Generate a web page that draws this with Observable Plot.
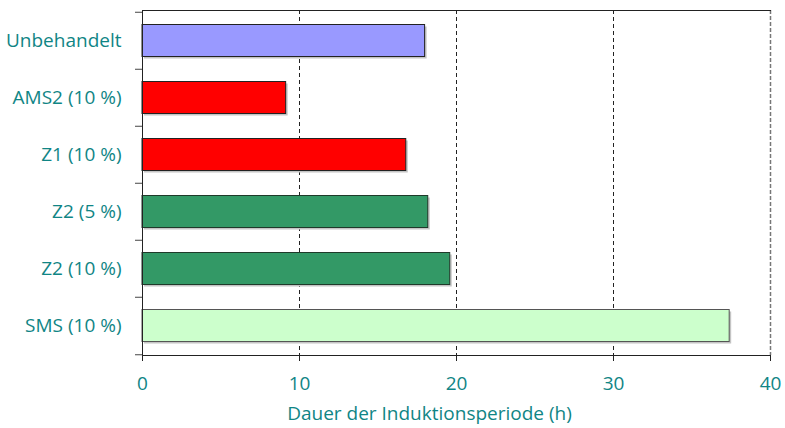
<!DOCTYPE html>
<html>
<head>
<meta charset="utf-8">
<script src="https://cdn.jsdelivr.net/npm/d3@7"></script>
<script src="https://cdn.jsdelivr.net/npm/@observablehq/plot@0.6"></script>
<style>
  html, body { margin: 0; padding: 0; background: white; }
</style>
</head>
<body>
<div id="chart"></div>
<script>
const categories = ["Unbehandelt", "AMS2 (10 %)", "Z1 (10 %)", "Z2 (5 %)", "Z2 (10 %)", "SMS (10 %)"];
const values = [18.0, 9.15, 16.8, 18.2, 19.6, 37.4];
const fills = ["#9999ff", "#ff0000", "#ff0000", "#339966", "#339966", "#ccffcc"];
const strokes = ["#222222", "#222222", "#222222", "#1f3a2a", "#1f3a2a", "#555555"];
const xTicks = [0, 10, 20, 30, 40];
const gridDark = [10, 20, 30];
const gridLight = [40];
const xLabel = "Dauer der Induktionsperiode (h)";

const W = 785, H = 428, mL = 142, mR = 15, mT = 10, mB = 73;
const step = (H - mT - mB) / categories.length;
const teal = "#108585";

const data = categories.map((c, i) => ({cat: c, value: values[i], fill: fills[i], stroke: strokes[i]}));

const chart = Plot.plot({
  width: W, height: H,
  marginLeft: mL, marginRight: mR, marginTop: mT, marginBottom: mB,
  style: {fontFamily: "'Open Sans', sans-serif", fontSize: "19px", background: "white", overflow: "visible"},
  x: {domain: [0, 40], ticks: xTicks},
  y: {domain: categories, padding: 0, axis: null},
  color: {type: "identity"},
  marks: [
    Plot.ruleX(gridDark, {stroke: "#222", strokeDasharray: "4,3"}),
    Plot.ruleX(gridLight, {stroke: "#777", strokeWidth: 1.5, strokeDasharray: "4,2"}),
    Plot.barX(data, {x: "value", y: "cat", fill: "#c4c4c4", insetTop: 12.5, insetBottom: 12.5, dx: 2, dy: 2}),
    Plot.barX(data, {x: "value", y: "cat", fill: "fill", stroke: "stroke", strokeWidth: 1, insetTop: 12.5, insetBottom: 12.5}),
    Plot.frame({anchor: "left", stroke: "#222"}),
    Plot.frame({anchor: "top", stroke: "#222"}),
    Plot.frame({anchor: "bottom", stroke: "#222"}),
    Plot.axisY({tickSize: 0, tickPadding: 21, fill: teal, fontSize: 19, label: null}),
    Plot.axisY({tickSize: 7, stroke: "#444", tickFormat: () => "", dy: -step / 2, label: null}),
    Plot.axisY(categories.slice(-1), {tickSize: 7, stroke: "#444", tickFormat: () => "", dy: step / 2, label: null}),
    Plot.axisX({ticks: xTicks, tickSize: 6, tickPadding: 15, stroke: "#222", fill: teal, fontSize: 19, label: null}),
    Plot.text([xLabel], {text: d => d, frameAnchor: "bottom", dx: -27, dy: 58, lineAnchor: "middle", fill: teal, fontSize: 19})
  ]
});
document.getElementById("chart").appendChild(chart);
</script>
</body>
</html>
